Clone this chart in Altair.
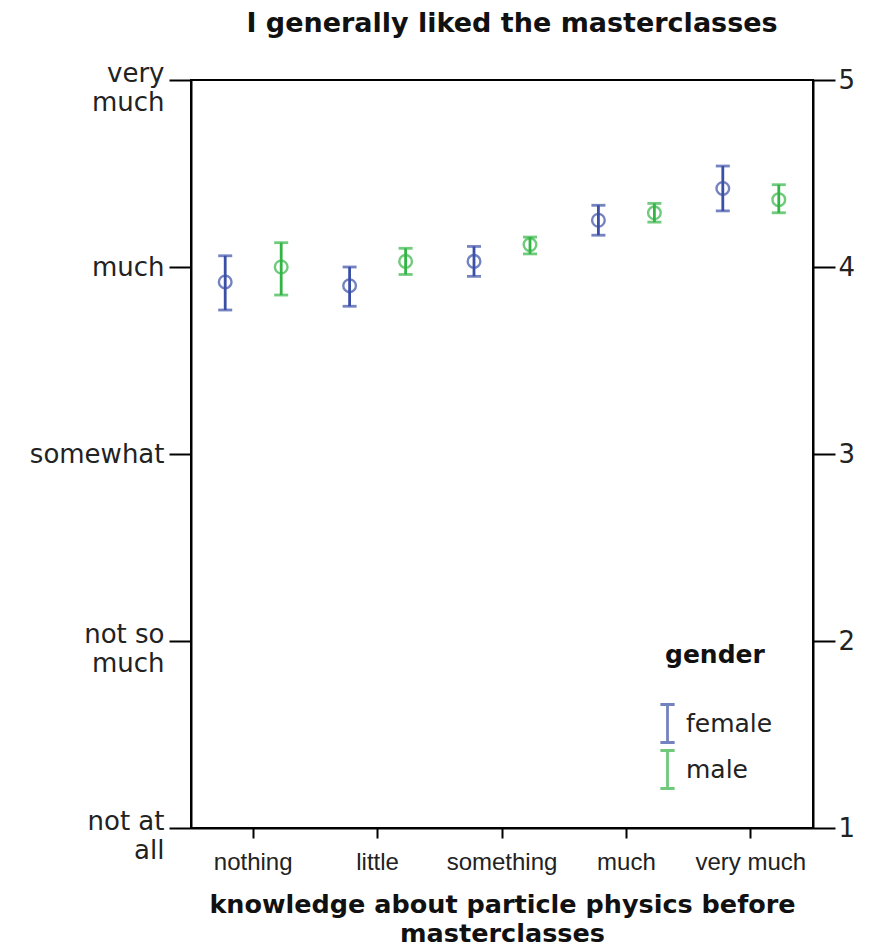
import altair as alt
import pandas as pd

categories = ["nothing", "little", "something", "much", "very much"]
genders = ["female", "male"]
female_mean = [3.92, 3.90, 4.03, 4.25, 4.42]
female_lo = [3.77, 3.79, 3.95, 4.17, 4.30]
female_hi = [4.06, 4.00, 4.11, 4.33, 4.54]
male_mean = [4.00, 4.03, 4.12, 4.29, 4.36]
male_lo = [3.85, 3.96, 4.07, 4.24, 4.29]
male_hi = [4.13, 4.10, 4.16, 4.34, 4.44]
y_ticks = [1, 2, 3, 4, 5]
colors = ["#3A4FA6", "#33B545"]

rows = []
for i, c in enumerate(categories):
    rows.append({"cat": c, "gender": "female", "mean": female_mean[i], "lo": female_lo[i], "hi": female_hi[i]})
    rows.append({"cat": c, "gender": "male", "mean": male_mean[i], "lo": male_lo[i], "hi": male_hi[i]})
df = pd.DataFrame(rows)

FONT = "DejaVu Sans"

x_enc = alt.X("cat:N", sort=categories,
              scale=alt.Scale(paddingInner=0, paddingOuter=0),
              axis=alt.Axis(title=["knowledge about particle physics before", "masterclasses"],
                            labelAngle=0, tickSize=10, tickWidth=2, labelPadding=12,
                            labelFont="Liberation Sans", labelFontSize=24, labelColor="#222",
                            titleFont=FONT, titleFontSize=25.5, titleFontWeight="bold",
                            titleColor="#111", titlePadding=18, titleLineHeight=29,
                            domainColor="black", domainWidth=2, tickColor="black"))
xo_enc = alt.XOffset("gender:N", scale=alt.Scale(paddingOuter=0.111, paddingInner=0))
yscale = alt.Scale(domain=[1, 5], nice=False, zero=False)

legend = alt.Legend(title="gender", orient="none", legendX=474, legendY=563,
                    symbolType="M-0.75,-2H0.75M0,-2V2M-0.75,2H0.75", symbolSize=361,
                    symbolStrokeWidth=2.8, symbolFillColor="transparent", symbolOffset=-10,
                    labelFont=FONT, labelFontSize=25, labelColor="#222", labelOffset=6,
                    titleFont=FONT, titleFontSize=25, titleFontWeight="bold", titleColor="#111",
                    titlePadding=43, rowPadding=-5, padding=0)
color_enc = alt.Color("gender:N", scale=alt.Scale(domain=genders, range=colors), legend=legend)

base = alt.Chart(df)

left_label = ("datum.value == 5 ? ['very','much'] : datum.value == 4 ? 'much' : "
              "datum.value == 3 ? 'somewhat' : datum.value == 2 ? ['not so','much'] : ['not at','all']")

rules = base.mark_rule(strokeWidth=2.8).encode(
    x=x_enc, xOffset=xo_enc,
    y=alt.Y("lo:Q", scale=yscale,
            axis=alt.Axis(orient="right", values=y_ticks, format="d", title=None, tickSize=22,
                          tickWidth=2, labelPadding=3, labelFont=FONT, labelFontSize=26,
                          labelColor="#222", domainColor="black", domainWidth=2, tickColor="black",
                          grid=False)),
    y2="hi:Q", color=color_enc)

caps_lo = base.mark_tick(size=14, thickness=2.8).encode(
    x=x_enc, xOffset=xo_enc, y=alt.Y("lo:Q", scale=yscale, axis=None), color=color_enc)
caps_hi = base.mark_tick(size=14, thickness=2.8).encode(
    x=x_enc, xOffset=xo_enc, y=alt.Y("hi:Q", scale=yscale, axis=None), color=color_enc)

points = base.mark_point(shape="circle", filled=False, size=160, strokeWidth=2.4).encode(
    x=x_enc, xOffset=xo_enc,
    y=alt.Y("mean:Q", scale=yscale,
            axis=alt.Axis(orient="left", values=y_ticks, title=None, tickSize=22, tickWidth=2,
                          labelPadding=5, labelExpr=left_label, labelFont=FONT, labelFontSize=26,
                          labelLineHeight=29, labelColor="#222", labelAlign="right",
                          labelOffset={"condition": {"test": "datum.value == 3 || datum.value == 4", "value": 0}, "value": -7},
                          domainColor="black", domainWidth=2, tickColor="black", grid=False)),
    color=color_enc)

chart = alt.layer(rules, caps_lo, caps_hi, points).resolve_axis(y="independent").properties(
    width=622, height=748,
    padding={"left": 21, "top": 2, "right": 5, "bottom": 0},
    title=alt.Title("I generally liked the masterclasses", font=FONT, fontSize=27,
                    fontWeight="bold", color="#111", offset=22, dx=10)
).configure_view(stroke="black", strokeWidth=2).configure_axis(grid=False)

chart.save("out.html", embed_options={"renderer": "svg", "actions": False})
